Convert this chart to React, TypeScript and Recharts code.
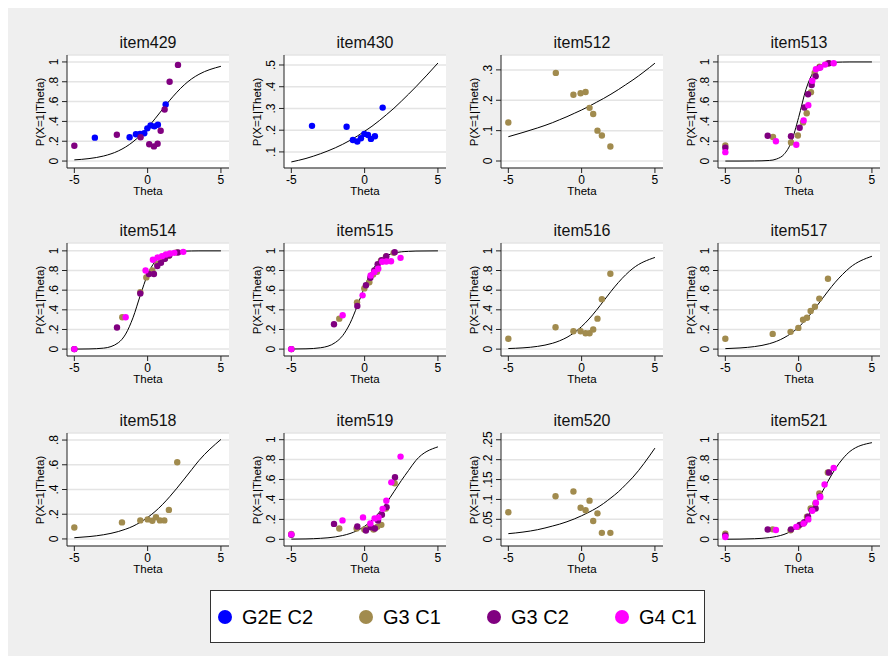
import React from "react"
import { ComposedChart, Line, Scatter, XAxis, YAxis, CartesianGrid } from "recharts"

const FONT = '"Liberation Sans", Arial, Helvetica, sans-serif'

const GROUPS = ["G2E C2", "G3 C1", "G3 C2", "G4 C1"]
const GROUP_COLORS = ["#0000ff", "#a18b4e", "#800080", "#ff00ff"]

// theta grid the fitted curves are read at
const THETA = [-5, -4, -3, -2, -1.5, -1, -0.5, 0, 0.5, 1, 1.5, 2, 2.5, 3, 3.5, 5]
const X_TICKS = [-5, 0, 5]

const TICKS_UNIT = [0, 0.2, 0.4, 0.6, 0.8, 1]
const TICKS_430 = [0.1, 0.2, 0.3, 0.4, 0.5]
const TICKS_512 = [0, 0.1, 0.2, 0.3]
const TICKS_518 = [0, 0.2, 0.4, 0.6, 0.8]
const TICKS_520 = [0, 0.05, 0.1, 0.15, 0.2, 0.25]

const CURVE_429 = [0.012, 0.025, 0.051, 0.102, 0.142, 0.194, 0.259, 0.337, 0.426, 0.519, 0.611, 0.695, 0.769, 0.829, 0.875, 0.956]
const CURVE_430 = [0.054, 0.07, 0.092, 0.119, 0.135, 0.153, 0.173, 0.195, 0.218, 0.244, 0.272, 0.301, 0.333, 0.366, 0.4, 0.509]
const CURVE_512 = [0.08, 0.094, 0.109, 0.126, 0.136, 0.146, 0.157, 0.168, 0.18, 0.193, 0.206, 0.22, 0.235, 0.251, 0.267, 0.322]
const CURVE_513 = [0.0, 0.0, 0.001, 0.006, 0.021, 0.067, 0.192, 0.44, 0.723, 0.897, 0.966, 0.99, 0.997, 0.999, 1.0, 1.0]
const CURVE_514 = [0.0, 0.002, 0.01, 0.065, 0.153, 0.319, 0.547, 0.758, 0.89, 0.954, 0.982, 0.993, 0.997, 0.999, 1.0, 1.0]
const CURVE_515 = [0.001, 0.003, 0.014, 0.067, 0.137, 0.261, 0.44, 0.636, 0.796, 0.897, 0.951, 0.977, 0.99, 0.995, 0.998, 1.0]
const CURVE_516 = [0.006, 0.013, 0.028, 0.059, 0.085, 0.12, 0.168, 0.23, 0.306, 0.394, 0.49, 0.587, 0.677, 0.756, 0.822, 0.933]
const CURVE_517 = [0.005, 0.012, 0.026, 0.055, 0.08, 0.115, 0.162, 0.224, 0.301, 0.392, 0.49, 0.589, 0.681, 0.761, 0.83, 0.945]
const CURVE_518 = [0.01, 0.019, 0.034, 0.06, 0.079, 0.103, 0.135, 0.174, 0.221, 0.277, 0.341, 0.411, 0.485, 0.56, 0.634, 0.805]
const CURVE_519 = [0.002, 0.004, 0.01, 0.024, 0.038, 0.058, 0.088, 0.131, 0.192, 0.271, 0.368, 0.478, 0.589, 0.692, 0.792, 0.928]
const CURVE_520 = [0.014, 0.018, 0.024, 0.033, 0.038, 0.044, 0.051, 0.059, 0.068, 0.078, 0.09, 0.104, 0.119, 0.137, 0.156, 0.229]
const CURVE_521 = [0.001, 0.002, 0.006, 0.017, 0.029, 0.049, 0.082, 0.134, 0.211, 0.316, 0.445, 0.582, 0.707, 0.807, 0.882, 0.97]

// observed proportions per group: [theta, p]
const P429_G2E = [[-3.6, 0.236], [-1.23, 0.24], [-0.8, 0.27], [-0.52, 0.273], [-0.23, 0.28], [-0.02, 0.33], [0.2, 0.36], [0.46, 0.35], [0.7, 0.367], [1.23, 0.57]]
const P429_G3C2 = [[-5, 0.155], [-2.1, 0.266], [-0.48, 0.24], [0.11, 0.17], [0.43, 0.148], [0.68, 0.175], [0.89, 0.306], [1.16, 0.52], [1.5, 0.8], [2.07, 0.97]]

const P430_G2E = [[-3.59, 0.22], [-1.23, 0.216], [-0.8, 0.155], [-0.5, 0.148], [-0.25, 0.163], [-0.02, 0.183], [0.23, 0.178], [0.43, 0.16], [0.7, 0.172], [1.23, 0.304]]

const P512_G3C1 = [[-5, 0.127], [-1.76, 0.29], [-0.56, 0.218], [-0.07, 0.223], [0.27, 0.227], [0.54, 0.175], [0.79, 0.155], [1.08, 0.1], [1.38, 0.084], [1.96, 0.048]]

const P513_G3C1 = [[-5, 0.158], [-1.75, 0.242], [-0.52, 0.188], [-0.05, 0.258], [0.3, 0.39], [0.55, 0.483], [0.84, 0.695], [1.09, 0.889], [1.43, 0.953], [1.98, 0.985]]
const P513_G3C2 = [[-5, 0.134], [-2.11, 0.255], [-0.52, 0.25], [0.07, 0.336], [0.39, 0.54], [0.64, 0.674], [0.89, 0.768], [1.16, 0.856], [1.43, 0.943], [2.07, 0.987]]
const P513_G4C1 = [[-5, 0.09], [-1.55, 0.2], [-0.16, 0.164], [0.34, 0.41], [0.66, 0.564], [0.93, 0.81], [1.18, 0.926], [1.48, 0.943], [1.8, 0.973], [2.39, 0.987]]

const P514_G3C1 = [[-5, 0.0], [-1.73, 0.324], [-0.5, 0.58], [-0.09, 0.73], [0.32, 0.8], [0.66, 0.865], [0.9, 0.89], [1.15, 0.92], [1.45, 0.95], [1.98, 0.985]]
const P514_G3C2 = [[-5, 0.0], [-2.09, 0.22], [-0.5, 0.567], [0.09, 0.764], [0.43, 0.764], [0.66, 0.845], [0.91, 0.878], [1.18, 0.919], [1.48, 0.956], [2.07, 0.983]]
const P514_G4C1 = [[-5, 0.0], [-1.5, 0.324], [-0.14, 0.8], [0.36, 0.91], [0.68, 0.932], [0.98, 0.946], [1.25, 0.963], [1.52, 0.973], [1.82, 0.98], [2.43, 0.99]]

const P515_G3C1 = [[-5, 0.0], [-1.73, 0.31], [-0.52, 0.476], [-0.02, 0.618], [0.32, 0.68], [0.58, 0.76], [0.84, 0.787], [1.11, 0.9], [1.45, 0.94], [1.98, 0.98]]
const P515_G3C2 = [[-5, 0.0], [-2.09, 0.253], [-0.5, 0.44], [0.09, 0.65], [0.39, 0.726], [0.66, 0.8], [0.89, 0.865], [1.16, 0.905], [1.48, 0.946], [2.05, 0.986]]
const P515_G4C1 = [[-5, 0.0], [-1.5, 0.345], [-0.14, 0.547], [0.41, 0.75], [0.66, 0.784], [0.93, 0.818], [1.2, 0.889], [1.48, 0.892], [1.8, 0.895], [2.45, 0.929]]

const P516_G3C1 = [[-5, 0.105], [-1.78, 0.223], [-0.56, 0.182], [-0.07, 0.182], [0.27, 0.162], [0.54, 0.162], [0.79, 0.2], [1.08, 0.31], [1.38, 0.507], [1.96, 0.767]]
const P517_G3C1 = [[-5, 0.105], [-1.77, 0.155], [-0.55, 0.176], [-0.02, 0.216], [0.3, 0.3], [0.57, 0.32], [0.82, 0.389], [1.11, 0.432], [1.41, 0.514], [2.0, 0.716]]
const P518_G3C1 = [[-5, 0.093], [-1.75, 0.134], [-0.5, 0.15], [0, 0.158], [0.32, 0.147], [0.57, 0.175], [0.84, 0.15], [1.14, 0.15], [1.45, 0.235], [2.02, 0.62]]

const P519_G3C1 = [[-5, 0.055], [-1.73, 0.108], [-0.55, 0.108], [-0.02, 0.098], [0.34, 0.131], [0.61, 0.098], [0.86, 0.125], [1.14, 0.145], [1.45, 0.31], [2.05, 0.562]]
const P519_G3C2 = [[-5, 0.045], [-2.09, 0.155], [-0.5, 0.128], [0.09, 0.088], [0.43, 0.121], [0.7, 0.108], [0.91, 0.189], [1.18, 0.246], [1.5, 0.323], [2.07, 0.623]]
const P519_G4C1 = [[-5, 0.05], [-1.51, 0.19], [-0.11, 0.22], [0.39, 0.16], [0.68, 0.21], [0.95, 0.22], [1.23, 0.306], [1.48, 0.387], [1.82, 0.572], [2.45, 0.83]]

const P520_G3C1 = [[-5, 0.068], [-1.78, 0.108], [-0.56, 0.12], [-0.07, 0.079], [0.27, 0.073], [0.54, 0.097], [0.79, 0.046], [1.08, 0.065], [1.38, 0.016], [1.96, 0.016]]

const P521_G3C1 = [[-5, 0.057], [-1.77, 0.1], [-0.55, 0.09], [-0.05, 0.125], [0.3, 0.16], [0.57, 0.226], [0.82, 0.31], [1.14, 0.36], [1.41, 0.46], [1.99, 0.67]]
const P521_G3C2 = [[-5, 0.04], [-2.11, 0.098], [-0.52, 0.1], [0.07, 0.145], [0.39, 0.172], [0.64, 0.226], [0.89, 0.293], [1.16, 0.31], [1.45, 0.43], [2.07, 0.67]]
const P521_G4C1 = [[-5, 0.024], [-1.55, 0.094], [-0.16, 0.125], [0.34, 0.158], [0.66, 0.2], [0.93, 0.286], [1.18, 0.367], [1.48, 0.424], [1.77, 0.55], [2.39, 0.717]]

const UNIT_DOMAIN = [-0.07, 1.07]

// points per group in GROUPS order (null = group not shown)
const PANELS = [
  { title: "item429", curve: CURVE_429, domain: UNIT_DOMAIN, ticks: TICKS_UNIT, points: [P429_G2E, null, P429_G3C2, null] },
  { title: "item430", curve: CURVE_430, domain: [0.026, 0.546], ticks: TICKS_430, points: [P430_G2E, null, null, null] },
  { title: "item512", curve: CURVE_512, domain: [-0.023, 0.349], ticks: TICKS_512, points: [null, P512_G3C1, null, null] },
  { title: "item513", curve: CURVE_513, domain: UNIT_DOMAIN, ticks: TICKS_UNIT, points: [null, P513_G3C1, P513_G3C2, P513_G4C1] },
  { title: "item514", curve: CURVE_514, domain: [-0.07, 1.08], ticks: TICKS_UNIT, points: [null, P514_G3C1, P514_G3C2, P514_G4C1] },
  { title: "item515", curve: CURVE_515, domain: [-0.07, 1.08], ticks: TICKS_UNIT, points: [null, P515_G3C1, P515_G3C2, P515_G4C1] },
  { title: "item516", curve: CURVE_516, domain: [-0.07, 1.08], ticks: TICKS_UNIT, points: [null, P516_G3C1, null, null] },
  { title: "item517", curve: CURVE_517, domain: [-0.07, 1.08], ticks: TICKS_UNIT, points: [null, P517_G3C1, null, null] },
  { title: "item518", curve: CURVE_518, domain: [-0.057, 0.857], ticks: TICKS_518, points: [null, P518_G3C1, null, null] },
  { title: "item519", curve: CURVE_519, domain: [-0.067, 1.067], ticks: TICKS_UNIT, points: [null, P519_G3C1, P519_G3C2, P519_G4C1] },
  { title: "item520", curve: CURVE_520, domain: [-0.017, 0.267], ticks: TICKS_520, points: [null, P520_G3C1, null, null] },
  { title: "item521", curve: CURVE_521, domain: [-0.067, 1.067], ticks: TICKS_UNIT, points: [null, P521_G3C1, P521_G3C2, P521_G4C1] },
]

const ROW_TOPS = [0, 188, 378]
const COL_STEP = 217
const CHART_W = 217
const CHART_H = 190
const PLOT_LEFT = 50
const PLOT_TOP = 47
const PLOT_W = 162
const PLOT_H = 113

const fmt = (v: number) => {
  if (v === 0) return "0"
  if (v === 1) return "1"
  return String(+v.toFixed(2)).replace(/^0/, "")
}

function YTick({ x, y, payload }: any) {
  return (
    <text
      x={x}
      y={y}
      transform={`rotate(-90 ${x} ${y})`}
      textAnchor="middle"
      fontSize={12}
      fill="#000"
    >
      {fmt(payload.value)}
    </text>
  )
}

function Panel({ panel, index }: any) {
  const col = index % 4
  const row = Math.floor(index / 4)
  const lineData = THETA.map((t, i) => ({ x: t, p: panel.curve[i] }))

  return (
    <div
      style={{
        position: "absolute",
        left: 9 + col * COL_STEP,
        top: ROW_TOPS[row],
        width: CHART_W,
        height: CHART_H,
      }}
    >
      <div
        style={{
          position: "absolute",
          left: PLOT_LEFT,
          width: PLOT_W,
          top: 25,
          lineHeight: "20px",
          fontSize: 16,
          fontWeight: 400,
          textAlign: "center",
          color: "#111",
        }}
      >
        {panel.title}
      </div>
      <div
        style={{
          position: "absolute",
          left: 23 - 50,
          top: PLOT_TOP + PLOT_H / 2 - 7,
          width: 100,
          height: 14,
          lineHeight: "14px",
          fontSize: 11.5,
          textAlign: "center",
          transform: "rotate(-90deg)",
          whiteSpace: "nowrap",
        }}
      >
        P(X=1|Theta)
      </div>
      <div
        style={{
          position: "absolute",
          left: PLOT_LEFT,
          width: PLOT_W,
          top: PLOT_TOP + PLOT_H + 16,
          lineHeight: "14px",
          fontSize: 11.5,
          textAlign: "center",
        }}
      >
        Theta
      </div>
      <ComposedChart
        width={CHART_W}
        height={CHART_H}
        data={lineData}
        margin={{ top: PLOT_TOP, right: CHART_W - PLOT_LEFT - PLOT_W, bottom: 0, left: 20 }}
        style={{ position: "absolute", left: 0, top: 0 }}
      >
        <CartesianGrid vertical={false} stroke="#e4e4e4" strokeWidth={1.5} fill="#fff" />
        <XAxis
          type="number"
          dataKey="x"
          domain={[-5.5, 5.55]}
          ticks={X_TICKS}
          interval={0}
          allowDataOverflow
          height={30}
          tickSize={5}
          tickMargin={2}
          axisLine={{ stroke: "#222" }}
          tickLine={{ stroke: "#222" }}
          tick={{ fill: "#000", fontSize: 12 }}
        />
        <YAxis
          type="number"
          dataKey="p"
          domain={panel.domain}
          ticks={panel.ticks}
          interval={0}
          allowDataOverflow
          width={30}
          tickSize={5}
          tickMargin={4}
          axisLine={{ stroke: "#222" }}
          tickLine={{ stroke: "#222" }}
          tick={<YTick />}
        />
        {panel.points.map((pts: number[][] | null, gi: number) =>
          pts ? (
            <Scatter
              key={GROUPS[gi]}
              name={GROUPS[gi]}
              data={pts.map(([x, p]) => ({ x, p }))}
              fill={GROUP_COLORS[gi]}
              isAnimationActive={false}
              shape={(s: any) => <circle cx={s.cx} cy={s.cy} r={3.2} fill={GROUP_COLORS[gi]} />}
            />
          ) : null
        )}
        <Line
          type="monotone"
          dataKey="p"
          stroke="#000"
          strokeWidth={1}
          dot={false}
          activeDot={false}
          isAnimationActive={false}
        />
      </ComposedChart>
    </div>
  )
}

function Legend() {
  // left edge of each key (dot) inside the box
  const lefts = [7, 148, 276, 404]
  return (
    <div
      style={{
        position: "absolute",
        left: 202,
        top: 582,
        width: 493,
        height: 51,
        background: "#fff",
        border: "1px solid #333",
      }}
    >
      {GROUPS.map((g, i) => (
        <div
          key={g}
          style={{
            position: "absolute",
            left: lefts[i],
            top: 12,
            height: 28,
            display: "flex",
            alignItems: "center",
            fontSize: 20,
            whiteSpace: "nowrap",
          }}
        >
          <span
            style={{
              display: "inline-block",
              width: 14,
              height: 14,
              borderRadius: 7,
              background: GROUP_COLORS[i],
              marginRight: 10,
            }}
          />
          {g}
        </div>
      ))}
    </div>
  )
}

export default function App() {
  return (
    <div
      style={{
        position: "relative",
        width: 888,
        height: 648,
        background: "#efefef",
        fontFamily: FONT,
        color: "#000",
      }}
    >
      <div
        style={{
          position: "absolute",
          left: 349,
          top: -23,
          fontSize: 20,
          lineHeight: "24px",
          color: "#000",
        }}
      >
        ( )
      </div>
      {PANELS.map((p, i) => (
        <Panel key={p.title} panel={p} index={i} />
      ))}
      <Legend />
    </div>
  )
}
